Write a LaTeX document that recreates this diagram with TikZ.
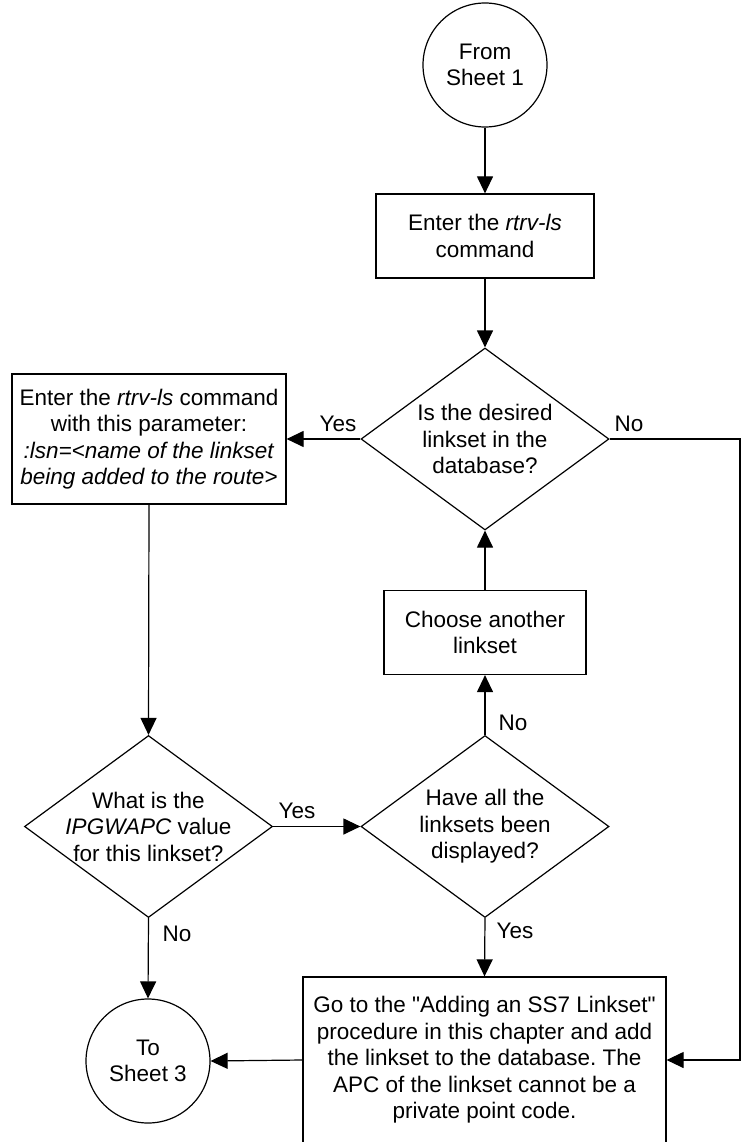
\documentclass[tikz,border=0pt]{standalone}
\usepackage{fontspec}
\setmainfont{Liberation Sans}
\newfontfamily\qfont{Liberation Sans}
\newcommand{\dq}{{\qfont\symbol{34}}}
\usetikzlibrary{shapes.geometric,arrows.meta}
\frenchspacing
\begin{document}
\begin{tikzpicture}[x=1pt,y=-1pt,
  every node/.style={font=\fontsize{22.5}{26.5}\selectfont, inner sep=0pt},
  arr/.style={line width=1.2pt, -{Triangle[length=17pt,width=16pt]}},
  stepbox/.style={draw, line width=1.2pt, align=center, rectangle},
  dia/.style={draw, line width=1.2pt, diamond, minimum width=248pt, minimum height=182pt},
  conn/.style={draw, line width=1.2pt, circle, align=center, minimum size=124pt},
  txt/.style={align=center},
  lbl/.style={anchor=center}
]
\useasboundingbox (0,0) rectangle (741,1142);

% nodes
\node[conn] (c1) at (485,65) {From\\Sheet 1};
\node[stepbox, minimum width=218pt, minimum height=84pt] (b1) at (485,236) {Enter the \textit{rtrv-ls}\\command};
\node[dia] (d1) at (485,439) {};
\node[txt] (t1) at (d1.center) {Is the desired\\linkset in the\\database?};
\node[stepbox, minimum width=274pt, minimum height=130pt] (b2) at (149,439) {Enter the \textit{rtrv-ls} command\\with this parameter:\\\textit{:lsn=<name of the linkset}\\\textit{being added to the route>}};
\node[stepbox, minimum width=202pt, minimum height=84pt] (b4) at (485,632.5) {Choose another\\linkset};
\node[dia] (d2) at (148.5,826.5) {};
\node[txt] (t2) at (d2.center) {What is the\\\textit{IPGWAPC} value\\for this linkset?};
\node[dia] (d3) at (485,826.5) {};
\node[txt] (t3) at (d3.center) {Have all the\\linksets been\\displayed?};
\node[stepbox, minimum width=363pt, minimum height=166pt] (b3) at (484.5,1060) {Go to the \dq Adding an SS7 Linkset\dq\\procedure in this chapter and add\\the linkset to the database. The\\APC of the linkset cannot be a\\private point code.};
\node[conn] (c2) at (148,1061) {To\\Sheet 3};

\coordinate (r1) at (740,439);
\coordinate (r2) at (740,1060);

% connectors
\draw[arr] (c1.south) -- (b1.north);
\draw[arr] (b1.south) -- (d1.north);
\draw[arr] (d1.west) -- (b2.east);
\draw[arr] (d1.east) -- (r1) -- (r2) -- (b3.east);
\draw[arr] (b2.south) -- (d2.north);
\draw[arr] (d2.east) -- (d3.west);
\draw[arr] (d3.north) -- (b4.south);
\draw[arr] (b4.north) -- (d1.south);
\draw[arr] (d3.south) -- (b3.north);
\draw[arr] (d2.south) -- (c2.north);
\draw[arr] (b3.west) -- (c2.east);

% labels
\node[lbl] (l1) at (338,424) {Yes};
\node[lbl] (l2) at (629,424) {No};
\node[lbl] (l3) at (297,811) {Yes};
\node[lbl] (l4) at (177,934) {No};
\node[lbl] (l5) at (513,723) {No};
\node[lbl] (l6) at (515,931) {Yes};
\end{tikzpicture}
\end{document}
